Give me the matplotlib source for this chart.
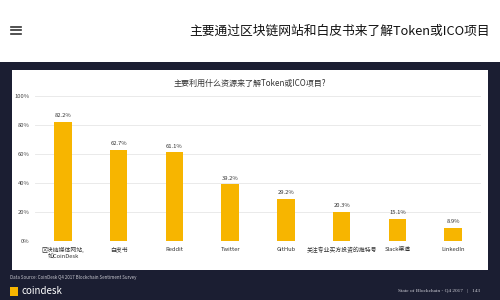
import matplotlib
matplotlib.use("Agg")
import matplotlib.pyplot as plt
from matplotlib.patches import Rectangle

plt.rcParams["font.family"] = ["Noto Sans CJK SC", "DejaVu Sans"]

# data
categories = [
    "区块链媒体网站,\n如CoinDesk",
    "白皮书",
    "Reddit",
    "Twitter",
    "GitHub",
    "关注专业买方投资的推特号",
    "Slack渠道",
    "LinkedIn",
]
shares = [82.2, 62.7, 61.1, 39.2, 29.2, 20.3, 15.1, 8.9]
y_ticks = [0, 20, 40, 60, 80, 100]

page_title = "主要通过区块链网站和白皮书来了解Token或ICO项目"
chart_title = "主要利用什么资源来了解Token或ICO项目?"
source_note = "Data Source: CoinDesk Q4 2017 Blockchain Sentiment Survey"
footer_right = "State of Blockchain - Q4 2017   |   143"

NAVY = "#1b1e32"
GOLD = "#f7b500"
W, H = 500, 300


def px(x, y):
    # pixel coords (top-left origin) -> figure fraction
    return x / W, 1 - y / H


fig = plt.figure(figsize=(5, 3), dpi=100)
fig.patch.set_facecolor("white")

# dark page body and white chart card (kept under the axes)
fig.patches.append(Rectangle((0, 0), 1, 1 - 62 / H, transform=fig.transFigure,
                             facecolor=NAVY, edgecolor="none", zorder=-2))
fig.patches.append(Rectangle(px(12, 270), 476 / W, 200 / H, transform=fig.transFigure,
                             facecolor="white", edgecolor="none", zorder=-1))

# header: menu icon and page title
for dy in (-3.5, 0, 3.5):
    fig.lines.append(plt.Line2D([11 / W, 21 / W], [1 - (30 + dy) / H] * 2,
                                transform=fig.transFigure, color="#333333", lw=1.2))
fig.text(*px(490, 31), page_title, ha="right", va="center", fontsize=9.2,
         color="#111111", fontweight="medium")

# chart
ax = fig.add_axes([35 / W, 59 / H, 446 / W, 145 / H])
ax.set_facecolor("none")
x = range(len(categories))
ax.bar(x, shares, width=0.31, color=GOLD, zorder=2)
for xi, v in zip(x, shares):
    ax.text(xi, v + 2.5, f"{v}%", ha="center", va="bottom", fontsize=4.2, color="#333333")

ax.set_xlim(-0.5, len(categories) - 0.5)
ax.set_ylim(0, 100)
ax.set_yticks(y_ticks)
ax.set_yticklabels([f"{t}%" for t in y_ticks], fontsize=4.2, color="#444444")
ax.set_xticks(list(x))
ax.set_xticklabels(categories, fontsize=4.2, color="#333333", linespacing=1.2)
ax.tick_params(length=0, pad=4)
ax.grid(axis="y", color="#e6e6e6", lw=0.6, zorder=0)
for s in ax.spines.values():
    s.set_visible(False)

fig.text(*px(250, 83), chart_title, ha="center", va="center", fontsize=5.8, color="#333333")

# footer
fig.text(*px(10, 278), source_note, ha="left", va="center", fontsize=3.2, color="#c8c8d0")
fig.patches.append(Rectangle(px(10, 296), 8 / W, 9 / H, transform=fig.transFigure,
                             facecolor=GOLD, edgecolor="none"))
fig.text(*px(21, 291), "coindesk", ha="left", va="center", fontsize=7, color="white")
fig.text(*px(480, 291), footer_right, ha="right", va="center", fontsize=3.8,
         color="#d0d0d8", family=["Liberation Serif", "DejaVu Serif"])

fig.savefig("out.png", dpi=100, facecolor=fig.get_facecolor())
